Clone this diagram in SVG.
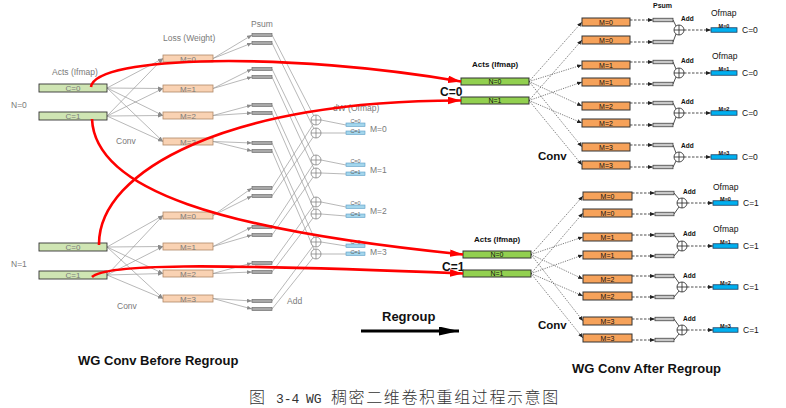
<svg xmlns="http://www.w3.org/2000/svg" width="786" height="408" viewBox="0 0 786 408">
<defs>
<style>
text{font-family:"Liberation Sans",Arial,sans-serif}
.lt{fill:#7a7a7a;font-size:8.5px}
.lts{fill:#7a7a7a;font-size:8px;text-anchor:middle}
.ltiny{fill:#6a6a6a;font-size:5.5px;text-anchor:middle}
.rt{fill:#111;font-size:8px;font-weight:bold}
.rbox{fill:#111;font-size:7px;text-anchor:middle}
.rtiny{fill:#111;font-size:5.5px;font-weight:bold;text-anchor:middle}
.radd{fill:#111;font-size:6.5px;font-weight:bold}
.rof{fill:#111;font-size:8.5px}
.rc{fill:#111;font-size:8.5px}
.cap{fill:#333;font-family:"Liberation Mono","Noto Sans CJK SC",monospace;font-size:13px}
.capc{font-family:"Noto Sans CJK SC",sans-serif;font-size:16px;font-weight:300;letter-spacing:1.6px}
.lgreen{fill:#cfe5b3;stroke:#333;stroke-width:0.9}
.lpeach{fill:#f9d2b3;stroke:#b08868;stroke-width:0.8}
.lpsum{fill:#a8a8a8;stroke:#6f6f6f;stroke-width:0.7}
.lblue{fill:#a3d6ec;stroke:#5b9bc5;stroke-width:0.6}
.rgreen{fill:#92d050;stroke:#333;stroke-width:1}
.rorange{fill:#f6a25a;stroke:#333;stroke-width:1}
.rpsum{fill:#c8c8c8;stroke:#444;stroke-width:0.8}
.rblue{fill:#00b0f0;stroke:#1f3f60;stroke-width:0.8}
.lline{stroke:#9a9a9a;stroke-width:0.7;fill:none}
.larr{stroke:#9a9a9a;stroke-width:0.7;fill:none;marker-end:url(#ga)}
.rdot{stroke:#222;stroke-width:0.6;fill:none;stroke-dasharray:1.2 1.2;marker-end:url(#ba)}
.rdash{stroke:#222;stroke-width:0.8;fill:none;stroke-dasharray:2.5 1.5;marker-end:url(#ba)}
.rline{stroke:#222;stroke-width:0.8;fill:none}
.red{stroke:#ff0000;stroke-width:2.6;fill:none;marker-end:url(#ra)}
.ladd{fill:#fff;stroke:#777;stroke-width:0.7}
.radder{fill:#fff;stroke:#222;stroke-width:0.8}
</style>
<marker id="ga" markerUnits="userSpaceOnUse" markerWidth="5" markerHeight="4" refX="5" refY="2" orient="auto"><path d="M0,0 L5,2 L0,4 z" fill="#8a8a8a"/></marker>
<marker id="ba" markerUnits="userSpaceOnUse" markerWidth="5" markerHeight="4" refX="5" refY="2" orient="auto"><path d="M0,0 L5,2 L0,4 z" fill="#222"/></marker>
<marker id="ra" markerUnits="userSpaceOnUse" markerWidth="14" markerHeight="8" refX="13" refY="3.75" orient="auto"><path d="M0,0 L13,3.75 L0,7.5 z" fill="#ff0000"/></marker>
<marker id="ka" markerUnits="userSpaceOnUse" markerWidth="20" markerHeight="10" refX="20" refY="4.5" orient="auto"><path d="M0,0 L20,4.5 L0,9 z" fill="#000"/></marker>
</defs>
<rect width="786" height="408" fill="#fff"/>

<!-- ============ LEFT connectors ============ -->
<g id="left-connectors">
<line class="larr" x1="107" y1="88" x2="163" y2="58.5"/>
<line class="larr" x1="107" y1="88" x2="163" y2="88.5"/>
<line class="larr" x1="107" y1="88" x2="163" y2="115.5"/>
<line class="larr" x1="107" y1="88" x2="163" y2="141.5"/>
<line class="larr" x1="107" y1="116" x2="163" y2="58.5"/>
<line class="larr" x1="107" y1="116" x2="163" y2="88.5"/>
<line class="larr" x1="107" y1="116" x2="163" y2="115.5"/>
<line class="larr" x1="107" y1="116" x2="163" y2="141.5"/>
<line class="larr" x1="107" y1="247" x2="163" y2="215.5"/>
<line class="larr" x1="107" y1="247" x2="163" y2="246.5"/>
<line class="larr" x1="107" y1="247" x2="163" y2="273.5"/>
<line class="larr" x1="107" y1="247" x2="163" y2="298.5"/>
<line class="larr" x1="107" y1="275" x2="163" y2="215.5"/>
<line class="larr" x1="107" y1="275" x2="163" y2="246.5"/>
<line class="larr" x1="107" y1="275" x2="163" y2="273.5"/>
<line class="larr" x1="107" y1="275" x2="163" y2="298.5"/>

<line class="larr" x1="213" y1="58.5" x2="252" y2="35"/>
<line class="larr" x1="213" y1="58.5" x2="252" y2="43"/>
<line class="larr" x1="213" y1="88.5" x2="252" y2="69"/>
<line class="larr" x1="213" y1="88.5" x2="252" y2="77"/>
<line class="larr" x1="213" y1="115.5" x2="252" y2="105"/>
<line class="larr" x1="213" y1="115.5" x2="252" y2="113"/>
<line class="larr" x1="213" y1="141.5" x2="252" y2="143"/>
<line class="larr" x1="213" y1="141.5" x2="252" y2="151"/>
<line class="larr" x1="213" y1="215.5" x2="252" y2="188"/>
<line class="larr" x1="213" y1="215.5" x2="252" y2="196"/>
<line class="larr" x1="213" y1="246.5" x2="252" y2="227"/>
<line class="larr" x1="213" y1="246.5" x2="252" y2="235"/>
<line class="larr" x1="213" y1="273.5" x2="252" y2="263"/>
<line class="larr" x1="213" y1="273.5" x2="252" y2="272"/>
<line class="larr" x1="213" y1="298.5" x2="252" y2="301"/>
<line class="larr" x1="213" y1="298.5" x2="252" y2="309"/>

<line class="lline" x1="272" y1="35" x2="316" y2="120"/>
<line class="lline" x1="272" y1="43" x2="316" y2="133"/>
<line class="lline" x1="272" y1="69" x2="316" y2="160"/>
<line class="lline" x1="272" y1="77" x2="316" y2="173"/>
<line class="lline" x1="272" y1="105" x2="316" y2="202"/>
<line class="lline" x1="272" y1="113" x2="316" y2="214"/>
<line class="lline" x1="272" y1="143" x2="316" y2="242"/>
<line class="lline" x1="272" y1="151" x2="316" y2="254"/>
<line class="lline" x1="272" y1="188" x2="316" y2="120"/>
<line class="lline" x1="272" y1="196" x2="316" y2="133"/>
<line class="lline" x1="272" y1="227" x2="316" y2="160"/>
<line class="lline" x1="272" y1="235" x2="316" y2="173"/>
<line class="lline" x1="272" y1="263" x2="316" y2="202"/>
<line class="lline" x1="272" y1="272" x2="316" y2="214"/>
<line class="lline" x1="272" y1="301" x2="316" y2="242"/>
<line class="lline" x1="272" y1="309" x2="316" y2="254"/>

<line class="lline" x1="321" y1="120" x2="346" y2="125"/>
<line class="lline" x1="321" y1="133" x2="346" y2="133"/>
<line class="lline" x1="321" y1="160" x2="346" y2="165"/>
<line class="lline" x1="321" y1="173" x2="346" y2="174"/>
<line class="lline" x1="321" y1="202" x2="346" y2="207"/>
<line class="lline" x1="321" y1="214" x2="346" y2="216"/>
<line class="lline" x1="321" y1="242" x2="346" y2="246"/>
<line class="lline" x1="321" y1="254" x2="346" y2="254"/>
</g>

<!-- ============ LEFT nodes ============ -->
<g id="left-labels">
<text class="lt" x="52" y="75">Acts (Ifmap)</text>
<text class="lt" x="11" y="108">N=0</text>
<text class="lt" x="11" y="267">N=1</text>
<text class="lt" x="116" y="144">Conv</text>
<text class="lt" x="117" y="309">Conv</text>
<text class="lt" x="163" y="41">Loss (Weight)</text>
<text class="lt" x="251" y="27">Psum</text>
<text class="lt" x="333" y="111">dW (Ofmap)</text>
<text class="lt" x="287" y="304">Add</text>
</g>
<g id="l-acts-n0c0"><rect class="lgreen" x="39" y="84" width="68" height="8"/><text class="lts" x="73" y="91">C=0</text></g>
<g id="l-acts-n0c1"><rect class="lgreen" x="39" y="112" width="68" height="8"/><text class="lts" x="73" y="119">C=1</text></g>
<g id="l-acts-n1c0"><rect class="lgreen" x="39" y="243" width="68" height="8"/><text class="lts" x="73" y="250">C=0</text></g>
<g id="l-acts-n1c1"><rect class="lgreen" x="39" y="271" width="68" height="8"/><text class="lts" x="73" y="278">C=1</text></g>

<g id="l-loss-n0m0"><rect class="lpeach" x="163" y="55" width="50" height="7"/><text class="lts" x="188" y="61.5">M=0</text></g>
<g id="l-loss-n0m1"><rect class="lpeach" x="163" y="85" width="50" height="7"/><text class="lts" x="188" y="91.5">M=1</text></g>
<g id="l-loss-n0m2"><rect class="lpeach" x="163" y="112" width="50" height="7"/><text class="lts" x="188" y="118.5">M=2</text></g>
<g id="l-loss-n0m3"><rect class="lpeach" x="163" y="138" width="50" height="7"/><text class="lts" x="188" y="144.5">M=3</text></g>
<g id="l-loss-n1m0"><rect class="lpeach" x="163" y="212" width="50" height="7"/><text class="lts" x="188" y="218.5">M=0</text></g>
<g id="l-loss-n1m1"><rect class="lpeach" x="163" y="243" width="50" height="7"/><text class="lts" x="188" y="249.5">M=1</text></g>
<g id="l-loss-n1m2"><rect class="lpeach" x="163" y="270" width="50" height="7"/><text class="lts" x="188" y="276.5">M=2</text></g>
<g id="l-loss-n1m3"><rect class="lpeach" x="163" y="295" width="50" height="7"/><text class="lts" x="188" y="301.5">M=3</text></g>

<g id="l-psum">
<rect class="lpsum" x="252" y="33.5" width="20" height="3"/>
<rect class="lpsum" x="252" y="41.5" width="20" height="3"/>
<rect class="lpsum" x="252" y="67.5" width="20" height="3"/>
<rect class="lpsum" x="252" y="75.5" width="20" height="3"/>
<rect class="lpsum" x="252" y="103.5" width="20" height="3"/>
<rect class="lpsum" x="252" y="111.5" width="20" height="3"/>
<rect class="lpsum" x="252" y="141.5" width="20" height="3"/>
<rect class="lpsum" x="252" y="149.5" width="20" height="3"/>
<rect class="lpsum" x="252" y="186.5" width="20" height="3"/>
<rect class="lpsum" x="252" y="194.5" width="20" height="3"/>
<rect class="lpsum" x="252" y="225.5" width="20" height="3"/>
<rect class="lpsum" x="252" y="233.5" width="20" height="3"/>
<rect class="lpsum" x="252" y="261.5" width="20" height="3"/>
<rect class="lpsum" x="252" y="270.5" width="20" height="3"/>
<rect class="lpsum" x="252" y="299.5" width="20" height="3"/>
<rect class="lpsum" x="252" y="307.5" width="20" height="3"/>
</g>

<g id="l-adders" stroke="#777" stroke-width="0.7">
<circle class="ladd" cx="316" cy="120" r="5"/><path d="M311,120h10M316,115v10"/>
<circle class="ladd" cx="316" cy="133" r="5"/><path d="M311,133h10M316,128v10"/>
<circle class="ladd" cx="316" cy="160" r="5"/><path d="M311,160h10M316,155v10"/>
<circle class="ladd" cx="316" cy="173" r="5"/><path d="M311,173h10M316,168v10"/>
<circle class="ladd" cx="316" cy="202" r="5"/><path d="M311,202h10M316,197v10"/>
<circle class="ladd" cx="316" cy="214" r="5"/><path d="M311,214h10M316,209v10"/>
<circle class="ladd" cx="316" cy="242" r="5"/><path d="M311,242h10M316,237v10"/>
<circle class="ladd" cx="316" cy="254" r="5"/><path d="M311,254h10M316,249v10"/>
</g>

<g id="l-dw-m0"><rect class="lblue" x="346" y="123" width="19" height="3.5"/><text class="ltiny" x="355.5" y="122.5">C=0</text><rect class="lblue" x="346" y="131" width="19" height="3.5"/><text class="ltiny" x="355.5" y="132.5">C=1</text><text class="lt" x="370" y="132" font-size="9">M=0</text></g>
<g id="l-dw-m1"><rect class="lblue" x="346" y="163" width="19" height="3.5"/><text class="ltiny" x="355.5" y="162.5">C=0</text><rect class="lblue" x="346" y="172" width="19" height="3.5"/><text class="ltiny" x="355.5" y="173.5">C=1</text><text class="lt" x="370" y="173" font-size="9">M=1</text></g>
<g id="l-dw-m2"><rect class="lblue" x="346" y="205" width="19" height="3.5"/><text class="ltiny" x="355.5" y="204.5">C=0</text><rect class="lblue" x="346" y="214" width="19" height="3.5"/><text class="ltiny" x="355.5" y="215.5">C=1</text><text class="lt" x="370" y="214" font-size="9">M=2</text></g>
<g id="l-dw-m3"><rect class="lblue" x="346" y="244" width="19" height="3.5"/><text class="ltiny" x="355.5" y="243.5">C=0</text><rect class="lblue" x="346" y="252" width="19" height="3.5"/><text class="ltiny" x="355.5" y="253.5">C=1</text><text class="lt" x="370" y="255" font-size="9">M=3</text></g>

<!-- ============ RIGHT connectors ============ -->
<g id="right-connectors">
<line class="rdot" x1="529" y1="81.5" x2="582" y2="22"/>
<line class="rdot" x1="529" y1="81.5" x2="582" y2="65"/>
<line class="rdot" x1="529" y1="81.5" x2="582" y2="106"/>
<line class="rdot" x1="529" y1="81.5" x2="582" y2="147"/>
<line class="rdot" x1="529" y1="100.5" x2="582" y2="40"/>
<line class="rdot" x1="529" y1="100.5" x2="582" y2="82"/>
<line class="rdot" x1="529" y1="100.5" x2="582" y2="123"/>
<line class="rdot" x1="529" y1="100.5" x2="582" y2="165"/>
<line class="rdot" x1="531" y1="254.5" x2="583" y2="196"/>
<line class="rdot" x1="531" y1="254.5" x2="583" y2="237"/>
<line class="rdot" x1="531" y1="254.5" x2="583" y2="279"/>
<line class="rdot" x1="531" y1="254.5" x2="583" y2="321"/>
<line class="rdot" x1="531" y1="273.5" x2="583" y2="213"/>
<line class="rdot" x1="531" y1="273.5" x2="583" y2="255"/>
<line class="rdot" x1="531" y1="273.5" x2="583" y2="296"/>
<line class="rdot" x1="531" y1="273.5" x2="583" y2="338"/>
<line class="rdash" x1="630" y1="20" x2="653" y2="20"/>
<line class="rdash" x1="630" y1="42" x2="653" y2="42"/>
<line class="rdash" x1="630" y1="62" x2="653" y2="62"/>
<line class="rdash" x1="630" y1="84" x2="653" y2="84"/>
<line class="rdash" x1="630" y1="103" x2="653" y2="103"/>
<line class="rdash" x1="630" y1="125" x2="653" y2="125"/>
<line class="rdash" x1="630" y1="145" x2="653" y2="145"/>
<line class="rdash" x1="630" y1="167" x2="653" y2="167"/>
<line class="rdash" x1="632" y1="193" x2="655" y2="193"/>
<line class="rdash" x1="632" y1="214" x2="655" y2="214"/>
<line class="rdash" x1="632" y1="235" x2="655" y2="235"/>
<line class="rdash" x1="632" y1="256" x2="655" y2="256"/>
<line class="rdash" x1="632" y1="276" x2="655" y2="276"/>
<line class="rdash" x1="632" y1="297" x2="655" y2="297"/>
<line class="rdash" x1="632" y1="319" x2="655" y2="319"/>
<line class="rdash" x1="632" y1="340" x2="655" y2="340"/>
<path class="rline" d="M673,20L676,26M673,42L676,34M673,62L676,69M673,84L676,77M673,103L676,109M673,125L676,117M673,145L676,153M673,167L676,161"/>
<path class="rline" d="M674,193L679,199M674,214L679,207M674,235L679,242M674,256L679,250M674,276L679,283M674,297L679,291M674,319L679,326M674,340L679,334"/>
<line class="rdash" x1="684" y1="30" x2="711" y2="30"/>
<line class="rdash" x1="684" y1="73" x2="711" y2="73"/>
<line class="rdash" x1="684" y1="113" x2="711" y2="113"/>
<line class="rdash" x1="684" y1="157" x2="711" y2="157"/>
<line class="rdash" x1="687" y1="203" x2="713" y2="203"/>
<line class="rdash" x1="687" y1="246" x2="713" y2="246"/>
<line class="rdash" x1="687" y1="287" x2="713" y2="287"/>
<line class="rdash" x1="687" y1="330" x2="713" y2="330"/>
</g>

<!-- ============ RIGHT nodes ============ -->
<g id="right-labels">
<text class="rt" x="472" y="67">Acts (Ifmap)</text>
<text class="rt" x="474" y="242">Acts (Ifmap)</text>
<text x="440" y="96" fill="#111" font-size="12" font-weight="bold">C=0</text>
<text x="442" y="271" fill="#111" font-size="12" font-weight="bold">C=1</text>
<text x="538" y="160" fill="#111" font-size="11.5" font-weight="bold">Conv</text>
<text x="538" y="329" fill="#111" font-size="11.5" font-weight="bold">Conv</text>
<text x="653" y="8" fill="#111" font-size="7" font-weight="bold">Psum</text>
<text class="rof" x="711" y="16">Ofmap</text>
<text class="rof" x="712" y="59">Ofmap</text>
<text class="rof" x="713" y="190">Ofmap</text>
<text class="rof" x="713" y="232">Ofmap</text>
</g>
<g id="r-acts-c0n0"><rect class="rgreen" x="461" y="78" width="68" height="7"/><text class="rbox" x="495" y="84">N=0</text></g>
<g id="r-acts-c0n1"><rect class="rgreen" x="461" y="97" width="68" height="7"/><text class="rbox" x="495" y="103">N=1</text></g>
<g id="r-acts-c1n0"><rect class="rgreen" x="463" y="251" width="68" height="7"/><text class="rbox" x="497" y="257">N=0</text></g>
<g id="r-acts-c1n1"><rect class="rgreen" x="463" y="270" width="68" height="7"/><text class="rbox" x="497" y="276">N=1</text></g>

<g id="r-conv-c0">
<rect class="rorange" x="582" y="18" width="48" height="8"/><text class="rbox" x="606" y="24.5">M=0</text>
<rect class="rorange" x="582" y="36" width="48" height="8"/><text class="rbox" x="606" y="42.5">M=0</text>
<rect class="rorange" x="582" y="61" width="48" height="8"/><text class="rbox" x="606" y="67.5">M=1</text>
<rect class="rorange" x="582" y="78" width="48" height="8"/><text class="rbox" x="606" y="84.5">M=1</text>
<rect class="rorange" x="582" y="102" width="48" height="8"/><text class="rbox" x="606" y="108.5">M=2</text>
<rect class="rorange" x="582" y="119" width="48" height="8"/><text class="rbox" x="606" y="125.5">M=2</text>
<rect class="rorange" x="582" y="143" width="48" height="8"/><text class="rbox" x="606" y="149.5">M=3</text>
<rect class="rorange" x="582" y="161" width="48" height="8"/><text class="rbox" x="606" y="167.5">M=3</text>
</g>
<g id="r-conv-c1">
<rect class="rorange" x="583" y="192" width="49" height="8"/><text class="rbox" x="607.5" y="198.5">M=0</text>
<rect class="rorange" x="583" y="209" width="49" height="8"/><text class="rbox" x="607.5" y="215.5">M=0</text>
<rect class="rorange" x="583" y="233" width="49" height="8"/><text class="rbox" x="607.5" y="239.5">M=1</text>
<rect class="rorange" x="583" y="251" width="49" height="8"/><text class="rbox" x="607.5" y="257.5">M=1</text>
<rect class="rorange" x="583" y="275" width="49" height="8"/><text class="rbox" x="607.5" y="281.5">M=2</text>
<rect class="rorange" x="583" y="292" width="49" height="8"/><text class="rbox" x="607.5" y="298.5">M=2</text>
<rect class="rorange" x="583" y="317" width="49" height="8"/><text class="rbox" x="607.5" y="323.5">M=3</text>
<rect class="rorange" x="583" y="334" width="49" height="8"/><text class="rbox" x="607.5" y="340.5">M=3</text>
</g>
<g id="r-psum">
<rect class="rpsum" x="653" y="18.25" width="20" height="3.5"/>
<rect class="rpsum" x="653" y="40.25" width="20" height="3.5"/>
<rect class="rpsum" x="653" y="60.25" width="20" height="3.5"/>
<rect class="rpsum" x="653" y="82.25" width="20" height="3.5"/>
<rect class="rpsum" x="653" y="101.25" width="20" height="3.5"/>
<rect class="rpsum" x="653" y="123.25" width="20" height="3.5"/>
<rect class="rpsum" x="653" y="143.25" width="20" height="3.5"/>
<rect class="rpsum" x="653" y="165.25" width="20" height="3.5"/>
<rect class="rpsum" x="655" y="191.25" width="19" height="3.5"/>
<rect class="rpsum" x="655" y="212.25" width="19" height="3.5"/>
<rect class="rpsum" x="655" y="233.25" width="19" height="3.5"/>
<rect class="rpsum" x="655" y="254.25" width="19" height="3.5"/>
<rect class="rpsum" x="655" y="274.25" width="19" height="3.5"/>
<rect class="rpsum" x="655" y="295.25" width="19" height="3.5"/>
<rect class="rpsum" x="655" y="317.25" width="19" height="3.5"/>
<rect class="rpsum" x="655" y="338.25" width="19" height="3.5"/>
</g>
<g id="r-adders" stroke="#222" stroke-width="0.8">
<circle class="radder" cx="679" cy="30" r="5"/><path d="M674,30h10M679,25v10"/>
<circle class="radder" cx="679" cy="73" r="5"/><path d="M674,73h10M679,68v10"/>
<circle class="radder" cx="679" cy="113" r="5"/><path d="M674,113h10M679,108v10"/>
<circle class="radder" cx="679" cy="157" r="5"/><path d="M674,157h10M679,152v10"/>
<circle class="radder" cx="682" cy="203" r="5"/><path d="M677,203h10M682,198v10"/>
<circle class="radder" cx="682" cy="246" r="5"/><path d="M677,246h10M682,241v10"/>
<circle class="radder" cx="682" cy="287" r="5"/><path d="M677,287h10M682,282v10"/>
<circle class="radder" cx="682" cy="330" r="5"/><path d="M677,330h10M682,325v10"/>
</g>
<g id="r-add-labels">
<text class="radd" x="681" y="21">Add</text>
<text class="radd" x="681" y="63">Add</text>
<text class="radd" x="681" y="104">Add</text>
<text class="radd" x="681" y="148">Add</text>
<text class="radd" x="683" y="194">Add</text>
<text class="radd" x="683" y="236">Add</text>
<text class="radd" x="683" y="278">Add</text>
<text class="radd" x="683" y="321">Add</text>
</g>
<g id="r-ofmap-c0">
<rect class="rblue" x="711" y="27.75" width="26" height="4.5"/><text class="rtiny" x="724" y="27.5">M=0</text><text class="rc" x="742" y="33">C=0</text>
<rect class="rblue" x="711" y="70.75" width="26" height="4.5"/><text class="rtiny" x="724" y="70.5">M=1</text><text class="rc" x="742" y="76">C=0</text>
<rect class="rblue" x="711" y="110.75" width="26" height="4.5"/><text class="rtiny" x="724" y="110.5">M=2</text><text class="rc" x="742" y="116">C=0</text>
<rect class="rblue" x="711" y="154.75" width="26" height="4.5"/><text class="rtiny" x="724" y="154.5">M=3</text><text class="rc" x="742" y="160">C=0</text>
</g>
<g id="r-ofmap-c1">
<rect class="rblue" x="713" y="200.75" width="25" height="4.5"/><text class="rtiny" x="725.5" y="200.5">M=0</text><text class="rc" x="743" y="206">C=1</text>
<rect class="rblue" x="713" y="243.75" width="25" height="4.5"/><text class="rtiny" x="725.5" y="243.5">M=1</text><text class="rc" x="743" y="249">C=1</text>
<rect class="rblue" x="713" y="284.75" width="25" height="4.5"/><text class="rtiny" x="725.5" y="284.5">M=2</text><text class="rc" x="743" y="290">C=1</text>
<rect class="rblue" x="713" y="327.75" width="25" height="4.5"/><text class="rtiny" x="725.5" y="327.5">M=3</text><text class="rc" x="743" y="333">C=1</text>
</g>

<!-- ============ Regroup red connectors ============ -->
<g id="regroup-connectors">
<path class="red" d="M91,87 C95,55 290,52 461,81.5"/>
<path class="red" d="M99,245 C98,170 230,100 461,100.5"/>
<path class="red" d="M92,119 C95,190 220,230 463,254.5"/>
<path class="red" d="M92,277 C105,264 200,263 463,273.5"/>
</g>

<g id="regroup-arrow">
<text x="382" y="321" fill="#111" font-size="13" font-weight="bold">Regroup</text>
<line x1="361" y1="331" x2="459" y2="331" stroke="#000" stroke-width="3" marker-end="url(#ka)"/>
</g>

<g id="titles">
<text x="78" y="365" fill="#111" font-size="13" font-weight="bold">WG Conv Before Regroup</text>
<text x="572" y="373" fill="#111" font-size="13" font-weight="bold">WG Conv After Regroup</text>
<text class="cap" y="403"><tspan class="capc" x="249" style="letter-spacing:0">图</tspan><tspan x="276">3-4</tspan><tspan x="306">WG</tspan><tspan class="capc" x="331">稠密二维卷积重组过程示意图</tspan></text>
</g>
</svg>
